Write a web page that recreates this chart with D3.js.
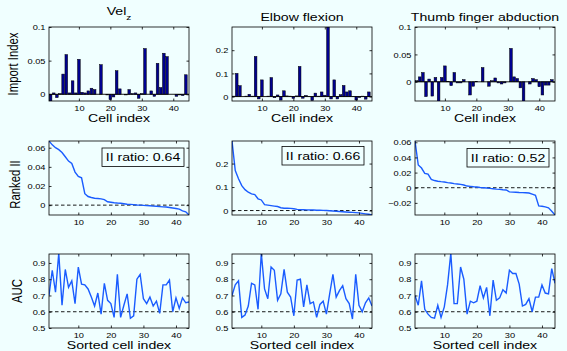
<!DOCTYPE html>
<html>
<head>
<meta charset="utf-8">
<script src="https://cdn.jsdelivr.net/npm/d3@7"></script>
<style>
html, body { margin: 0; padding: 0; background: #f0ffff; }
svg { display: block; font-family: "Liberation Sans", Arial, Helvetica, sans-serif; }
</style>
</head>
<body>
<svg id="chart" width="567" height="351"></svg>
<script>
// cell index along every x axis
const cellIdx = [1, 2, 3, 4, 5, 6, 7, 8, 9, 10, 11, 12, 13, 14, 15, 16, 17, 18, 19, 20, 21, 22,
    23, 24, 25, 26, 27, 28, 29, 30, 31, 32, 33, 34, 35, 36, 37, 38, 39, 40, 41, 42, 43, 44];
const xTicks = [10, 20, 30, 40];

const titles = ['Vel', 'Elbow flexion', 'Thumb finger abduction'];
const titleSub = ['z', '', ''];

// row 1: import index per cell
const importVelZ = [-0.01, 0.002, -0.005, 0.001, 0.03, 0.059, 0.002, 0.02, 0.002, 0.052, 0.003,
    0.002, 0.005, 0.009, 0.007, 0, 0.044, 0, -0.001, -0.008, -0.004, 0.035, 0.008, 0, -0.001,
    0.007, 0.001, 0.002, -0.006, 0.001, 0.068, 0, 0.005, -0.003, 0.046, 0.01, 0.061, 0.056, 0,
    0, -0.003, -0.001, -0.002, 0.029];
const importElbow = [0.002, 0.1, 0.047, 0, 0.002, 0.01, 0.002, 0.173, -0.01, 0.072, 0, 0.002,
    0.082, -0.005, 0.007, -0.015, 0.025, 0.003, 0.002, -0.008, 0.003, 0.13, -0.007, 0.005, 0.001,
    -0.017, 0.015, 0.002, 0.02, 0.006, 0.3, -0.01, 0.072, -0.01, 0.008, 0.048, 0.02, 0.025, 0.001,
    -0.015, -0.004, 0.002, -0.011, 0.02];
const importThumb = [0.002, 0.009, 0.017, -0.027, 0.005, -0.026, 0.008, -0.04, 0.008, 0.029,
    0.001, -0.007, 0.017, -0.002, -0.002, 0.004, 0, -0.024, -0.008, 0.001, 0, 0.026, 0, -0.008,
    0.002, 0.007, -0.002, -0.004, -0.002, 0, 0.061, 0.009, 0.006, -0.011, -0.04, 0, -0.004,
    0.006, 0.004, -0.009, -0.024, -0.006, -0.006, 0.004];

// row 2: ranked import index
const rankedVelZ = [0.067, 0.063, 0.06, 0.058, 0.055, 0.0505, 0.046, 0.0435, 0.0345, 0.03,
    0.0285, 0.012, 0.009, 0.008, 0.0072, 0.007, 0.0065, 0.0057, 0.0035, 0.003, 0.0025, 0.0022,
    0.002, 0.0015, 0.001, 0.0008, 0.0005, 0.0002, 0, -0.0002, -0.0005, -0.0007, -0.001, -0.0012,
    -0.0015, -0.0018, -0.002, -0.0025, -0.003, -0.0035, -0.0042, -0.006, -0.007, -0.0103];
const rankedElbow = [0.296, 0.17, 0.135, 0.106, 0.089, 0.078, 0.071, 0.068, 0.05, 0.045, 0.025,
    0.023, 0.021, 0.019, 0.017, 0.012, 0.01, 0.0095, 0.009, 0.0075, 0.005, 0.004, 0.0035, 0.003,
    0.0025, 0.002, 0.0015, 0.001, 0.0005, 0, -0.001, -0.002, -0.003, -0.004, -0.005, -0.006,
    -0.007, -0.008, -0.009, -0.01, -0.012, -0.014, -0.016, -0.019];
const rankedThumb = [0.0617, 0.03, 0.026, 0.019, 0.018, 0.011, 0.0095, 0.0085, 0.008, 0.0076,
    0.0067, 0.0063, 0.0054, 0.005, 0.0045, 0.0036, 0.0022, 0.0018, 0.0013, 0.0009, 0.0004, 0,
    -0.0004, -0.0009, -0.0013, -0.0018, -0.0022, -0.0027, -0.003, -0.0054, -0.0058, -0.006,
    -0.0063, -0.0065, -0.0067, -0.007, -0.0085, -0.01, -0.024, -0.0245, -0.0253, -0.0265,
    -0.031, -0.036];
const iiRatio = ['0.64', '0.66', '0.52'];

// row 3: AUC by sorted cell
const aucVelZ = [0.70, 0.855, 0.72, 0.96, 0.64, 0.86, 0.75, 0.79, 0.65, 0.875, 0.77, 0.765, 0.74,
    0.69, 0.635, 0.715, 0.585, 0.775, 0.67, 0.65, 0.565, 0.83, 0.565, 0.64, 0.71, 0.56, 0.575,
    0.80, 0.83, 0.68, 0.65, 0.69, 0.635, 0.665, 0.59, 0.765, 0.765, 0.795, 0.60, 0.685, 0.62,
    0.685, 0.655, 0.66];
const aucElbow = [0.70, 0.765, 0.79, 0.565, 0.58, 0.635, 0.775, 0.765, 0.615, 0.96, 0.74, 0.68,
    0.875, 0.855, 0.67, 0.71, 0.86, 0.72, 0.69, 0.575, 0.795, 0.80, 0.63, 0.765, 0.65, 0.66, 0.565,
    0.645, 0.665, 0.585, 0.71, 0.83, 0.69, 0.73, 0.76, 0.68, 0.65, 0.555, 0.83, 0.64, 0.60, 0.655,
    0.685, 0.635];
const aucThumb = [0.70, 0.64, 0.79, 0.615, 0.585, 0.565, 0.56, 0.64, 0.565, 0.63, 0.765, 0.96,
    0.65, 0.65, 0.875, 0.80, 0.585, 0.665, 0.655, 0.665, 0.76, 0.685, 0.75, 0.575, 0.795, 0.67,
    0.685, 0.735, 0.715, 0.855, 0.835, 0.835, 0.77, 0.635, 0.645, 0.68, 0.60, 0.69, 0.69, 0.765,
    0.715, 0.71, 0.865, 0.775];

// axis limits and ticks
const importDomains = [[-0.01, 0.1], [-0.019, 0.3], [-0.035, 0.1]];
const importTicks = [[0, 0.05, 0.1], [0, 0.1, 0.2], [0, 0.05, 0.1]];
const rankedDomains = [[-0.0103, 0.067], [-0.019, 0.296], [-0.036, 0.0617]];
const rankedTicks = [[0, 0.02, 0.04, 0.06], [0, 0.1, 0.2], [-0.02, 0, 0.02, 0.04, 0.06]];
const aucDomain = [0.5, 0.955];
const aucTicks = [0.5, 0.6, 0.7, 0.8, 0.9];
const aucChance = 0.6;

const importSeries = [importVelZ, importElbow, importThumb];
const rankedSeries = [rankedVelZ, rankedElbow, rankedThumb];
const aucSeries = [aucVelZ, aucElbow, aucThumb];

// layout
const colLeft = [49, 232, 415];
const rowTop = [27, 141, 254];
const panelW = 140;
const panelH = 74;
const SX = 1.25; // the original figure is stretched sideways
const tickFont = 7.4;
const labelFont = 11.3;
const legendPos = [{dx: 53, dy: 7}, {dx: 50, dy: 5.5}, {dx: 52, dy: 7.5}];
const yLabelX = [18, 19.5, 21.5];
const barColor = '#000090';
const lineColor = '#1a5cff';

const svg = d3.select('#chart');
const fmt = d3.format('~g');

function addText(parent, x, y, str, size, anchor, rotate) {
    return parent.append('text')
    .attr('transform', `translate(${x},${y}) scale(${SX},1)${rotate ? ' rotate(-90)' : ''}`)
    .attr('font-size', size)
    .attr('text-anchor', anchor)
    .attr('fill', '#000')
    .text(str);
}

function drawFrame(g, x, y, yt, showXLabels) {
    g.append('rect')
    .attr('width', panelW).attr('height', panelH)
    .attr('fill', 'none').attr('stroke', '#000').attr('stroke-width', 0.8);

    const ax = [
        {a: d3.axisBottom(x).tickValues(xTicks), t: `translate(0,${panelH})`, lab: showXLabels},
        {a: d3.axisTop(x).tickValues(xTicks), t: 'translate(0,0)', lab: false},
        {a: d3.axisLeft(y).tickValues(yt), t: 'translate(0,0)', lab: true},
        {a: d3.axisRight(y).tickValues(yt), t: `translate(${panelW},0)`, lab: false}
    ];
    ax.forEach((d, i) => {
        const ag = g.append('g').attr('transform', d.t)
        .call(d.a.tickSizeInner(-2.5).tickSizeOuter(0).tickFormat(i < 2 ? d3.format('d') : fmt));
        ag.select('.domain').remove();
        ag.selectAll('line').attr('stroke-width', 0.8);
        ag.attr('font-family', null).attr('font-size', null);
        if (!d.lab) {
            ag.selectAll('text').remove();
            return;
        }
        if (i === 0) {
            ag.selectAll('text').attr('y', null).attr('dy', null)
            .attr('font-size', tickFont)
            .attr('transform', `translate(0,10.2) scale(${SX},1)`);
        } else {
            ag.selectAll('text').attr('x', null).attr('dy', '0.36em')
            .attr('font-size', tickFont)
            .attr('transform', `translate(-3.5,0) scale(${SX},1)`);
        }
    });
}

function panel(c, r) {
    const g = svg.append('g').attr('transform', `translate(${colLeft[c]},${rowTop[r]})`);
    const clipId = `clip-${c}-${r}`;
    g.append('clipPath').attr('id', clipId)
    .append('rect').attr('width', panelW).attr('height', panelH);
    const plot = g.append('g').attr('clip-path', `url(#${clipId})`);
    return {g, plot};
}

for (let c = 0; c < 3; c++) {
    // --- row 1: import index bars
    {
        const {g, plot} = panel(c, 0);
        const x = d3.scaleLinear().domain([0.5, 45]).range([0, panelW]);
        const y = d3.scaleLinear().domain(importDomains[c]).range([panelH, 0]);
        const bw = 0.85;
        const vals = importSeries[c];
        plot.selectAll('rect.bar')
        .data(cellIdx)
        .enter()
        .append('rect')
        .attr('class', 'bar')
        .attr('x', (d) => x(d - bw / 2))
        .attr('width', x(1 + bw) - x(1))
        .attr('y', (d, i) => y(Math.max(0, vals[i])))
        .attr('height', (d, i) => Math.abs(y(vals[i]) - y(0)))
        .attr('fill', barColor)
        .attr('stroke', '#000')
        .attr('stroke-width', 0.5);
        plot.append('line')
        .attr('x1', 0).attr('x2', panelW)
        .attr('y1', y(0)).attr('y2', y(0))
        .attr('stroke', '#000').attr('stroke-width', 0.9);
        drawFrame(g, x, y, importTicks[c], true);
        addText(g, panelW / 2, panelH + 20.5, 'Cell index', labelFont, 'middle', false);

        const t = addText(g, panelW / 2, titleSub[c] ? -12 : -6.5, titles[c], labelFont, 'middle', false);
        if (titleSub[c]) {
            t.append('tspan').attr('font-size', 8).attr('dy', 5).text(titleSub[c]);
        }
    }

    // --- row 2: ranked II
    {
        const {g, plot} = panel(c, 1);
        const x = d3.scaleLinear().domain([1, 44]).range([0, panelW]);
        const y = d3.scaleLinear().domain(rankedDomains[c]).range([panelH, 0]);
        plot.append('line')
        .attr('x1', 0).attr('x2', panelW)
        .attr('y1', y(0)).attr('y2', y(0))
        .attr('stroke', '#000').attr('stroke-width', 0.9)
        .attr('stroke-dasharray', '3.5,2.5');
        const vals = rankedSeries[c];
        plot.append('path')
        .datum(cellIdx)
        .attr('fill', 'none')
        .attr('stroke', lineColor)
        .attr('stroke-width', 1.4)
        .attr('d', d3.line().x((d) => x(d)).y((d, i) => y(vals[i])));
        drawFrame(g, x, y, rankedTicks[c], true);

        const lp = legendPos[c];
        g.append('rect')
        .attr('x', lp.dx).attr('y', lp.dy)
        .attr('width', 82).attr('height', 18.5)
        .attr('fill', 'none').attr('stroke', '#000').attr('stroke-width', 0.8);
        addText(g, lp.dx + 41, lp.dy + 13.3, `II ratio: ${iiRatio[c]}`, labelFont, 'middle', false);
    }

    // --- row 3: AUC
    {
        const {g, plot} = panel(c, 2);
        const x = d3.scaleLinear().domain([1, 44]).range([0, panelW]);
        const y = d3.scaleLinear().domain(aucDomain).range([panelH, 0]);
        plot.append('line')
        .attr('x1', 0).attr('x2', panelW)
        .attr('y1', y(aucChance)).attr('y2', y(aucChance))
        .attr('stroke', '#000').attr('stroke-width', 0.9)
        .attr('stroke-dasharray', '3.5,2.5');
        const vals = aucSeries[c];
        plot.append('path')
        .datum(cellIdx)
        .attr('fill', 'none')
        .attr('stroke', lineColor)
        .attr('stroke-width', 1.4)
        .attr('d', d3.line().x((d) => x(d)).y((d, i) => y(vals[i])));
        drawFrame(g, x, y, aucTicks, true);
        addText(g, panelW / 2, panelH + 20.5, 'Sorted cell index', labelFont, 'middle', false);
    }
}

// y labels on the left column only
const yLabels = ['Import Index', 'Ranked II', 'AUC'];
const yLabelShift = [0, 6.5, 0];
yLabels.forEach((s, r) => {
    addText(svg, yLabelX[r], rowTop[r] + panelH / 2 + yLabelShift[r], s, labelFont, 'middle', true);
});
</script>
</body>
</html>
